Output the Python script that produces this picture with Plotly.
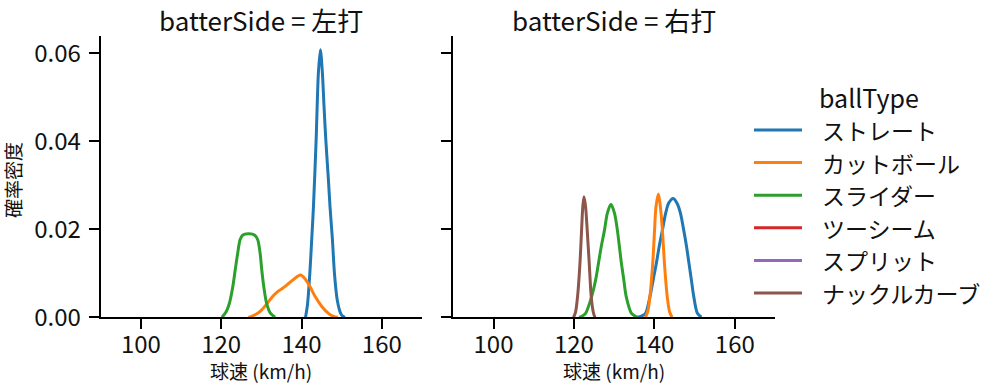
import plotly.graph_objects as go

W, H = 999, 391
FONT = "Noto Sans CJK JP"

ball_types = ["ストレート", "カットボール", "スライダー", "ツーシーム", "スプリット", "ナックルカーブ"]
colors = ["#1f77b4", "#ff7f0e", "#2ca02c", "#d62728", "#9467bd", "#8c564b"]
panels = ["左打", "右打"]

# 左打 (left-handed batters) density curves
L_straight_x = [141.0, 141.5, 142.07, 142.5, 142.97, 143.64, 144.2, 144.7, 145.2, 145.6, 146.05, 146.7, 147.1, 147.7, 148.2, 148.9, 149.5, 150.0, 150.8]
L_straight_y = [0.0, 0.003, 0.0100, 0.017, 0.0251, 0.0403, 0.0555, 0.0608, 0.0555, 0.048, 0.0403, 0.0312, 0.0251, 0.0176, 0.0100, 0.0039, 0.0015, 0.0005, 0.0]
L_cutter_x = [126.8, 128.0, 128.9, 130.1, 131.5, 132.5, 133.4, 134.3, 135.3, 136.3, 137.9, 139.0, 139.8, 140.8, 142.1, 143.4, 145.1, 146.7, 148.0, 149.0]
L_cutter_y = [0.0, 0.0004, 0.0008, 0.0017, 0.0032, 0.0044, 0.0053, 0.0060, 0.0066, 0.0073, 0.0085, 0.0093, 0.0096, 0.0088, 0.0070, 0.0047, 0.0024, 0.0009, 0.0002, 0.0]
L_slider_x = [120.2, 121.2, 122.05, 122.9, 123.5, 124.1, 124.7, 125.3, 125.9, 126.8, 127.8, 128.4, 129.1, 129.7, 130.1, 130.6, 131.3, 132.2, 133.4]
L_slider_y = [0.0, 0.0012, 0.0032, 0.0070, 0.0108, 0.0145, 0.0176, 0.0186, 0.0189, 0.0190, 0.0189, 0.0186, 0.0176, 0.0145, 0.0108, 0.0070, 0.0032, 0.0010, 0.0]

# 右打 (right-handed batters)
R_straight_x = [135.8, 136.8, 137.8, 138.9, 139.7, 140.5, 141.2, 142.0, 142.8, 143.6, 144.7, 145.7, 146.5, 147.3, 148.0, 148.6, 149.2, 149.8, 150.7, 151.7]
R_straight_y = [0.0, 0.0003, 0.0009, 0.0047, 0.0085, 0.0123, 0.0161, 0.0198, 0.0236, 0.0260, 0.0270, 0.0258, 0.0236, 0.0198, 0.0161, 0.0123, 0.0085, 0.0047, 0.0009, 0.0]
R_cutter_x = [137.8, 138.4, 138.9, 139.6, 140.05, 140.4, 141.0, 141.5, 142.0, 142.5, 143.2, 143.8, 144.4]
R_cutter_y = [0.0, 0.0015, 0.0047, 0.0123, 0.0198, 0.0251, 0.0280, 0.0251, 0.0198, 0.0123, 0.0047, 0.0012, 0.0]
R_slider_x = [121.3, 122.1, 122.9, 124.4, 125.4, 126.1, 126.8, 127.6, 128.3, 129.2, 130.1, 130.8, 131.3, 131.8, 132.4, 133.0, 134.3, 135.8]
R_slider_y = [0.0, 0.0003, 0.0009, 0.0047, 0.0085, 0.0123, 0.0161, 0.0198, 0.0236, 0.0257, 0.0236, 0.0198, 0.0161, 0.0123, 0.0085, 0.0047, 0.0009, 0.0]
R_kcurve_x = [119.9, 120.4, 120.9, 121.5, 121.9, 122.2, 122.5, 122.9, 123.3, 123.8, 124.3, 124.8, 125.2]
R_kcurve_y = [0.0, 0.0012, 0.0047, 0.0123, 0.0198, 0.0251, 0.0274, 0.0251, 0.0198, 0.0123, 0.0047, 0.0012, 0.0]

x_ticks = [100, 120, 140, 160]
y_ticks = [0.00, 0.02, 0.04, 0.06]
x_range = [90, 170]
y_range = [0, 0.0639]

curves = {
    0: [("ストレート", L_straight_x, L_straight_y),
        ("カットボール", L_cutter_x, L_cutter_y),
        ("スライダー", L_slider_x, L_slider_y)],
    1: [("ストレート", R_straight_x, R_straight_y),
        ("カットボール", R_cutter_x, R_cutter_y),
        ("スライダー", R_slider_x, R_slider_y),
        ("ナックルカーブ", R_kcurve_x, R_kcurve_y)],
}

def px(x):
    return x / W

def py(y):
    return 1 - y / H

fig = go.Figure()
for p in (0, 1):
    xa = "x" if p == 0 else "x2"
    ya = "y" if p == 0 else "y2"
    for name, xs, ys in curves[p]:
        fig.add_trace(go.Scatter(
            x=xs, y=ys, mode="lines", xaxis=xa, yaxis=ya,
            line=dict(color=colors[ball_types.index(name)], width=3, shape="spline", smoothing=0.8),
            showlegend=False, hoverinfo="skip"))

x_domains = [[px(100.7), px(422)], [px(453.3), px(775)]]
y_domain = [py(317.3), py(36)]

axis_common = dict(
    showgrid=False, zeroline=False, showline=True, linecolor="black", linewidth=2,
    ticks="outside", ticklen=10, tickwidth=2, tickcolor="black",
    tickfont=dict(family=FONT, size=24, color="#111"), automargin=False,
)
fig.update_layout(
    xaxis=dict(domain=x_domains[0], range=x_range, tickvals=x_ticks, anchor="y", ticklabelstandoff=-5, **axis_common),
    yaxis=dict(domain=y_domain, range=y_range, tickvals=y_ticks, tickformat=".2f", anchor="x", ticklabelstandoff=3, **axis_common),
    xaxis2=dict(domain=x_domains[1], range=x_range, tickvals=x_ticks, anchor="y2", ticklabelstandoff=-5, **axis_common),
    yaxis2=dict(domain=y_domain, range=y_range, tickvals=y_ticks, showticklabels=False, anchor="x2", **axis_common),
)

ann = []
for p, side in enumerate(panels):
    cx = (x_domains[p][0] + x_domains[p][1]) / 2
    ann.append(dict(text=f"batterSide = {side}", x=cx, y=py(20), xref="paper", yref="paper",
                    showarrow=False, xanchor="center", yanchor="middle",
                    font=dict(family=FONT, size=26, color="#111")))
    ann.append(dict(text="球速 (km/h)", x=cx, y=py(370), xref="paper", yref="paper",
                    showarrow=False, xanchor="center", yanchor="middle",
                    font=dict(family=FONT, size=19, color="#111")))
ann.append(dict(text="確率密度", x=px(13), y=py(180), xref="paper", yref="paper", textangle=-90,
                showarrow=False, xanchor="center", yanchor="middle",
                font=dict(family=FONT, size=19, color="#111")))

# legend drawn from the category list
ann.append(dict(text="ballType", x=px(817), y=py(97), xref="paper", yref="paper",
                showarrow=False, xanchor="left", yanchor="middle",
                font=dict(family=FONT, size=25, color="#111")))
shapes = []
row0, gap = 130, 32.6
for i, (name, c) in enumerate(zip(ball_types, colors)):
    yy = py(row0 + i * gap)
    shapes.append(dict(type="line", xref="paper", yref="paper", x0=px(754), x1=px(802), y0=yy, y1=yy,
                       line=dict(color=c, width=3)))
    ann.append(dict(text=name, x=px(820), y=yy, xref="paper", yref="paper",
                    showarrow=False, xanchor="left", yanchor="middle",
                    font=dict(family=FONT, size=23, color="#111")))

fig.update_layout(
    width=W, height=H, margin=dict(l=0, r=0, t=0, b=0, autoexpand=False),
    paper_bgcolor="white", plot_bgcolor="white",
    annotations=ann, shapes=shapes, showlegend=False,
)

fig.write_html(
    "out.html",
    config={"displayModeBar": False},
    post_script="document.documentElement.style.margin='0';document.body.style.margin='0';"
                "document.documentElement.style.overflow='hidden';document.body.style.overflow='hidden';",
)
